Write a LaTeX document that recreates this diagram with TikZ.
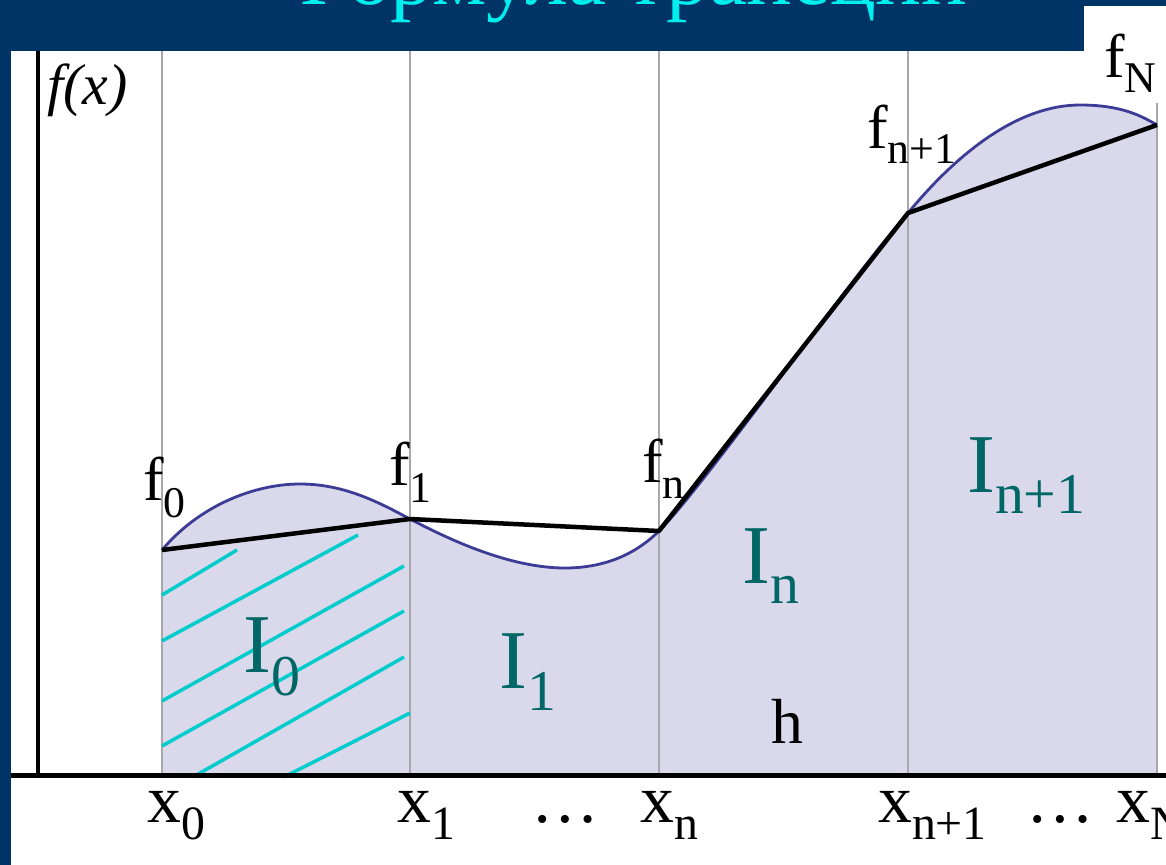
\documentclass[tikz,border=0pt]{standalone}
\usepackage{fontspec}
\setmainfont{Liberation Serif}
\usepackage{xcolor}

\definecolor{navy}{RGB}{0,51,102}
\definecolor{lavender}{RGB}{217,217,235}
\definecolor{curveblue}{RGB}{60,60,150}
\definecolor{gridgray}{RGB}{168,168,172}
\definecolor{hatchcyan}{RGB}{0,204,204}
\definecolor{tealtext}{RGB}{0,102,102}
\definecolor{titlecyan}{RGB}{0,238,238}

% lowered index: drop, size, text
\newcommand{\idx}[3]{\raisebox{-#1bp}{\fontsize{#2}{#2}\selectfont #3}}

\begin{document}
\begin{tikzpicture}[x=1bp,y=-1bp,
  flab/.style={inner sep=0, anchor=base west, font=\fontsize{62}{62}\selectfont},
  xlab/.style={inner sep=0, anchor=base west, font=\fontsize{68}{68}\selectfont},
  ilab/.style={inner sep=0, anchor=base west, text=tealtext, font=\fontsize{84}{84}\selectfont},
  gridline/.style={gridgray, line width=2bp},
  hatch/.style={hatchcyan, line width=3.5bp},
  trap/.style={black, line width=4.5bp, line join=round}]
\useasboundingbox (0,0) rectangle (1166,865);
\clip (0,0) rectangle (1166,865);
% background
\fill[navy] (0,0) rectangle (1166,865);
\fill[white] (11,51) rectangle (1166,865);
\node[inner sep=0, anchor=base, text=titlecyan, font=\fontsize{86}{86}\selectfont] (title) at (624,4) {Формула трапеций};
% area under f(x)
\fill[lavender] (162,550) .. controls (200,505) and (255,484) .. (300,484)
  .. controls (345,484) and (380,503) .. (410,519)
  .. controls (450,540) and (510,568) .. (565,568)
  .. controls (610,568) and (640,550) .. (659,531)
  .. controls (705,485) and (845,285) .. (908,213)
  .. controls (960,150) and (1020,105) .. (1080,105)
  .. controls (1120,105) and (1140,115) .. (1157,125)
  -- (1157,775) -- (162,775) -- cycle;
% grid
\foreach \gx in {162,410,659,908,1157}
  \draw[gridline] (\gx,51) -- (\gx,775);
\fill[white] (1084,6) rectangle (1166,103);
% f(x)
\draw[curveblue, line width=2.8bp] (162,550) .. controls (200,505) and (255,484) .. (300,484)
  .. controls (345,484) and (380,503) .. (410,519)
  .. controls (450,540) and (510,568) .. (565,568)
  .. controls (610,568) and (640,550) .. (659,531)
  .. controls (705,485) and (845,285) .. (908,213)
  .. controls (960,150) and (1020,105) .. (1080,105)
  .. controls (1120,105) and (1140,115) .. (1157,125);
% hatching of I_0
\draw[hatch] (162,595) -- (237,550);
\draw[hatch] (162,641) -- (358,535);
\draw[hatch] (162,701) -- (404,566);
\draw[hatch] (162,746) -- (404,611);
\draw[hatch] (193,777) -- (404,657);
\draw[hatch] (284,777) -- (410,713);
% axes
\draw[line width=4bp] (37.5,51) -- (37.5,775);
\draw[line width=5bp] (11,775) -- (1166,775);
% trapezoids
\coordinate (p0) at (162,550);
\coordinate (p1) at (410,519);
\coordinate (pn) at (659,531);
\coordinate (pn1) at (908,213);
\coordinate (pN) at (1157,125);
\draw[trap] (p0) -- (p1) -- (pn) -- (pn1) -- (pN);
% labels
\node[inner sep=0, anchor=base west, font=\fontsize{58}{58}\selectfont\itshape] (fx) at (47,104) {f(x)};
\node[flab] (f0) at (143,500) {f\idx{17}{44}{0}};
\node[flab] (f1) at (389,485) {f\idx{17}{44}{1}};
\node[flab] (fn) at (642,482) {f\idx{16}{44}{n}};
\node[flab] (fn1) at (867,148) {f\idx{15}{44}{n+1}};
\node[flab] (fN) at (1104,77) {f\idx{15}{44}{N}};
\node[xlab] (x0) at (147,822) {x\idx{17}{48}{0}};
\node[xlab] (x1) at (397,822) {x\idx{17}{48}{1}};
\node[xlab] (dots1) at (531,822) {\ldots};
\node[xlab] (xn) at (640,822) {x\idx{17}{48}{n}};
\node[xlab] (xn1) at (878,822) {x\idx{17}{48}{n+1}};
\node[xlab] (dots2) at (1026,822) {\ldots};
\node[xlab] (xN) at (1116,822) {x\idx{17}{48}{N}};
\node[ilab] (I0) at (243,672) {I\idx{23}{58}{0}};
\node[ilab] (I1) at (499,688) {I\idx{22}{58}{1}};
\node[ilab] (In) at (742,583) {I\idx{20}{58}{n}};
\node[ilab] (In1) at (967,492) {I\idx{21}{58}{n+1}};
\node[inner sep=0, anchor=base west, font=\fontsize{64}{64}\selectfont] (h) at (771,743) {h};
\end{tikzpicture}
\end{document}
